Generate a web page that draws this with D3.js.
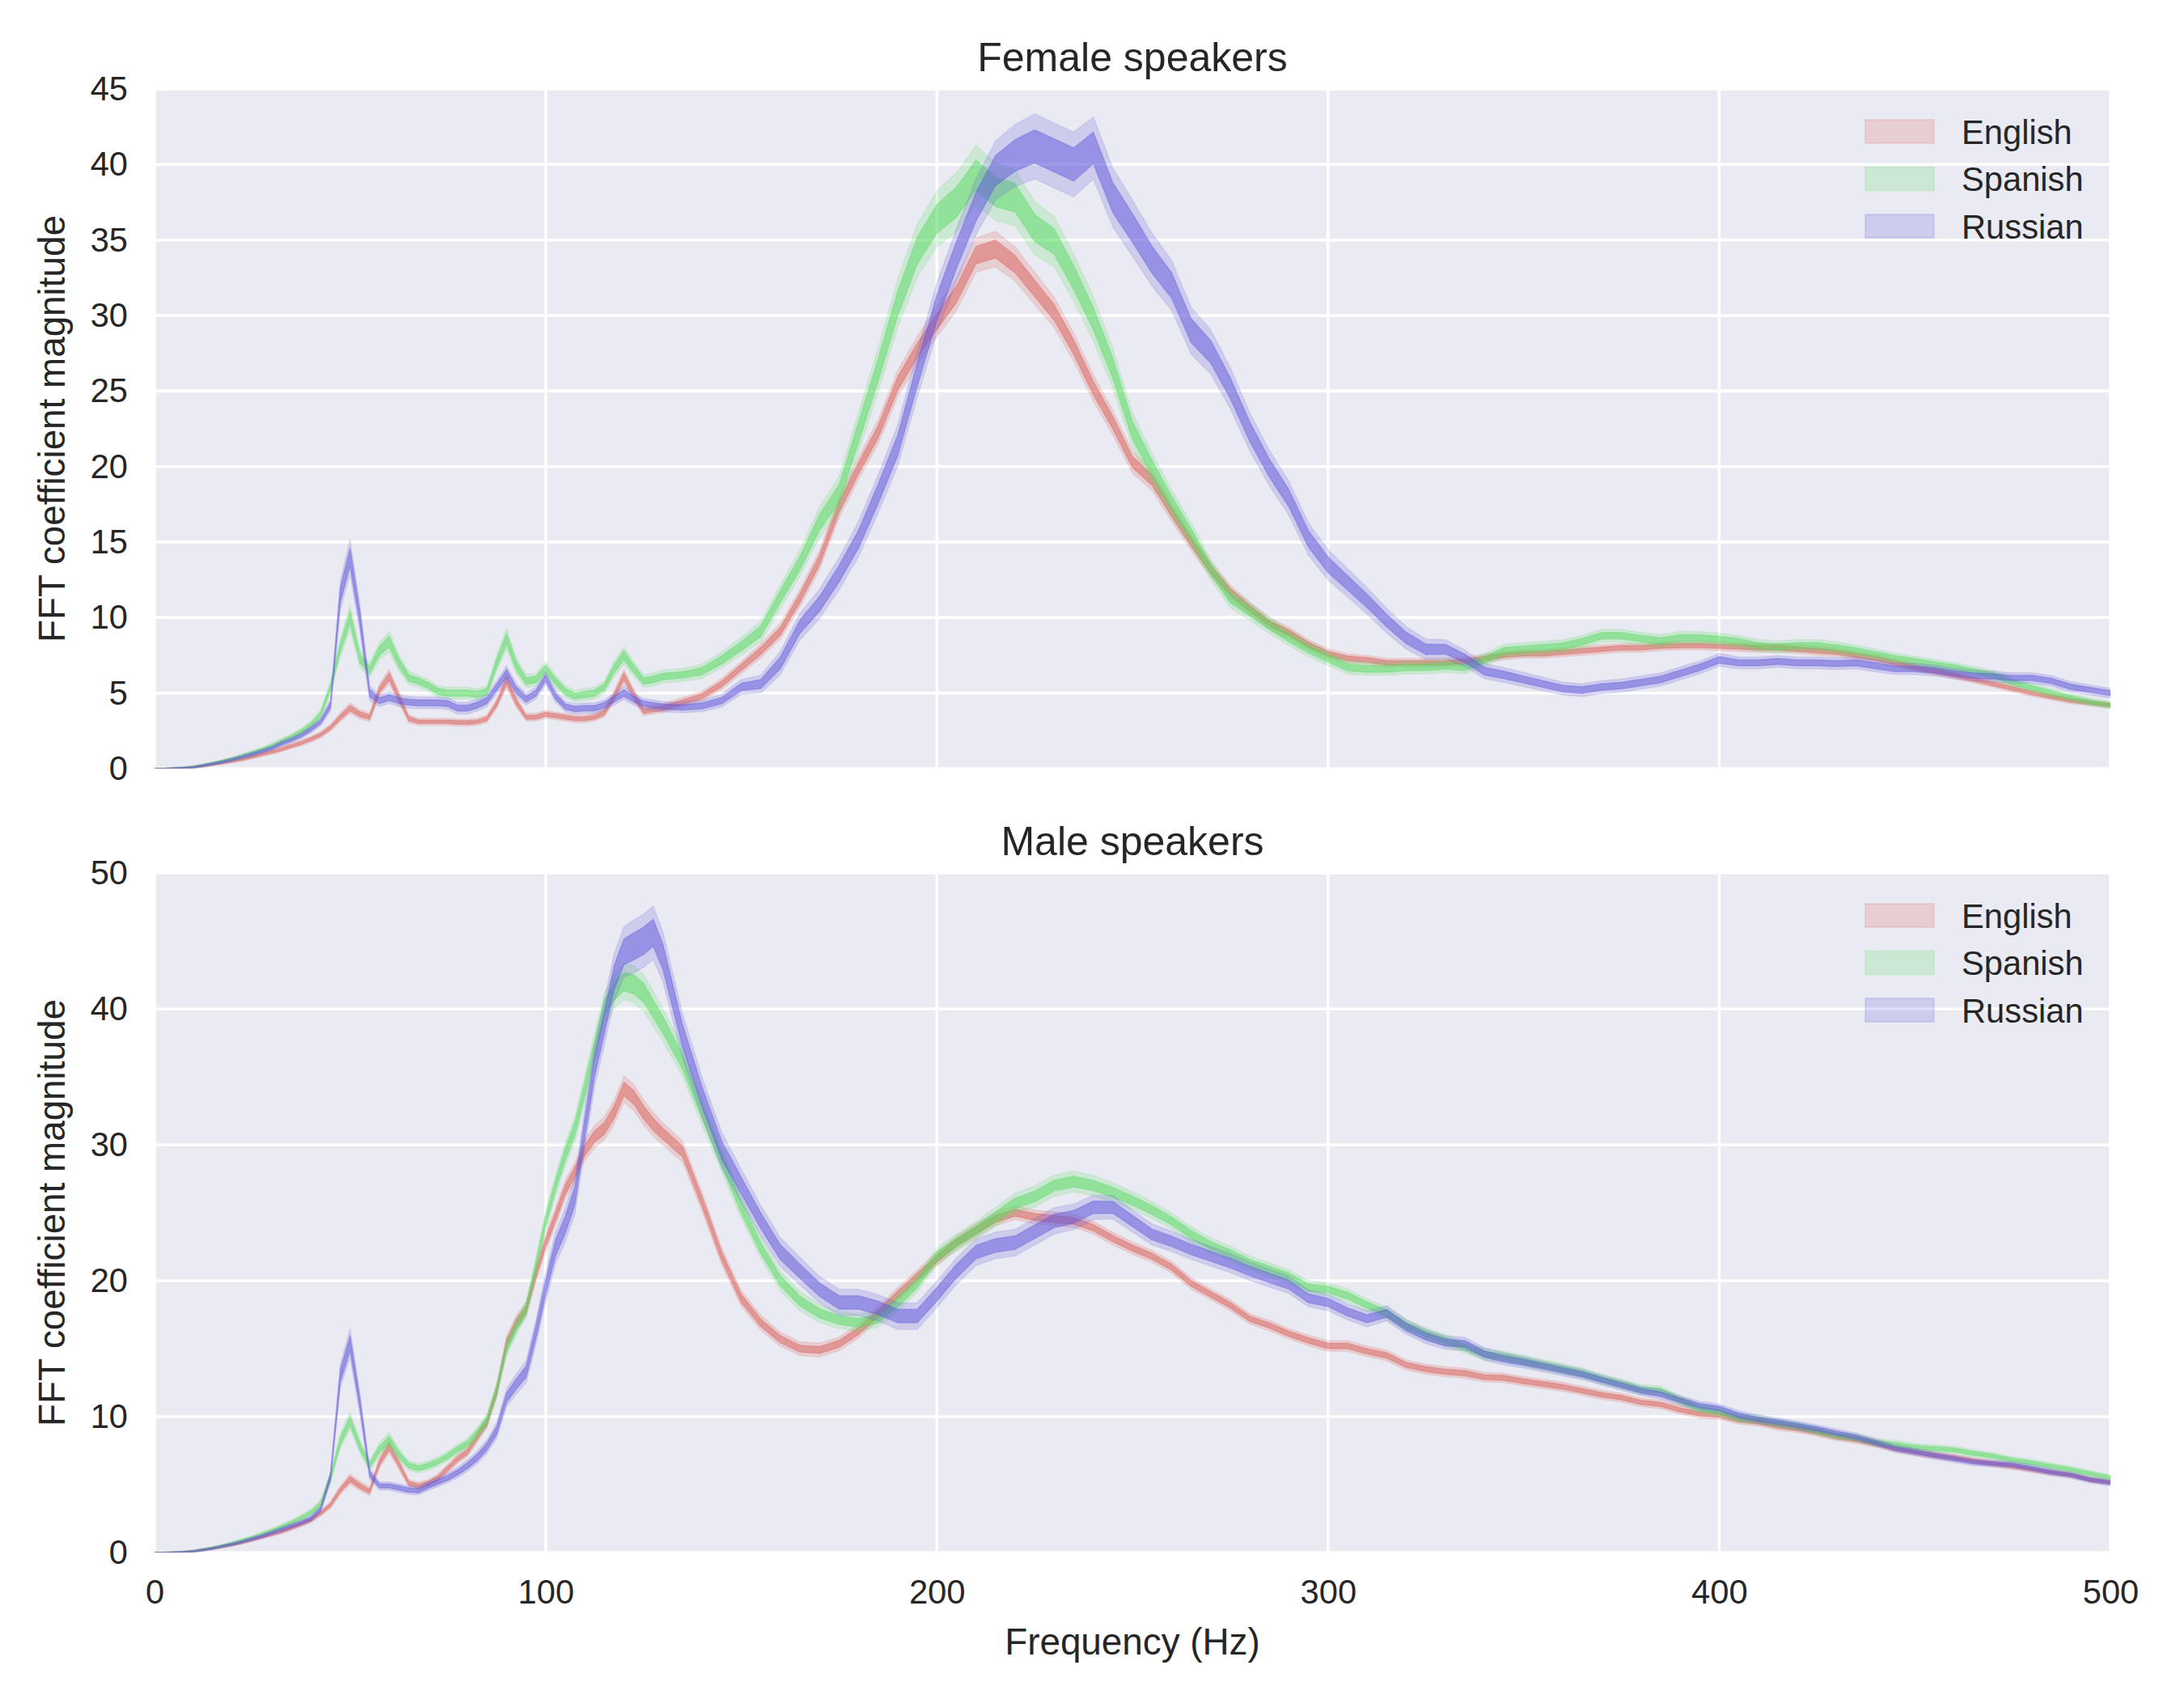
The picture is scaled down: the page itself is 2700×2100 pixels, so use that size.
<!DOCTYPE html>
<html><head><meta charset="utf-8">
<script src="https://cdn.jsdelivr.net/npm/d3@7"></script>
<style>body{margin:0;background:#fff;} svg{display:block;font-family:"Liberation Sans",Arial,sans-serif;}</style>
</head><body><svg id="chart" width="2700" height="2100"></svg>
<script>
// ---------------- DATA ----------------
const frequency = [0,2.5,5,7.5,10,12.5,15,17.5,20,22.5,
25,27.5,30,32.5,35,37.5,40,42.5,45,47.5,
50,52.5,55,57.5,60,62.5,65,67.5,70,72.5,
75,77.5,80,82.5,85,87.5,90,92.5,95,97.5,
100,102.5,105,107.5,110,112.5,115,117.5,120,122.5,
125,127.5,130,
135,140,145,150,155,160,165,170,175,180,
185,190,195,200,205,210,215,220,225,230,
235,240,245,250,255,260,265,270,275,280,
285,290,295,300,305,310,315,320,325,330,
335,340,345,350,355,360,365,370,375,380,
385,390,395,400,405,410,415,420,425,430,
435,440,445,450,455,460,465,470,475,480,
485,490,495,500];

const languages = ["English", "Spanish", "Russian"];
const panelTitles = ["Female speakers", "Male speakers"];
const xTicks = [0, 100, 200, 300, 400, 500];
const femaleYTicks = [0, 5, 10, 15, 20, 25, 30, 35, 40, 45];
const maleYTicks = [0, 10, 20, 30, 40, 50];

// Female speakers: mean magnitude
const femaleEnglish = [0,0,0.02,0.05,0.1,0.18,0.28,0.4,0.5,0.62,
0.78,0.95,1.1,1.28,1.5,1.7,1.95,2.25,2.7,3.4,
4.0,3.6,3.4,5.2,6.1,4.7,3.3,3.1,3.1,3.1,
3.1,3.05,3.05,3.1,3.3,4.3,5.8,4.4,3.4,3.4,
3.6,3.5,3.4,3.3,3.3,3.4,3.7,4.8,6.1,4.9,
3.8,3.9,4.0,
4.4,4.8,5.6,6.7,7.8,9.1,11.3,13.8,17.3,19.9,
22.3,25.5,27.7,29.6,31.4,34.0,34.4,33.4,31.8,30.2,
27.9,25.2,22.9,20.3,19.1,17.0,15.0,13.2,11.7,10.6,
9.6,9.0,8.2,7.6,7.3,7.2,7.0,7.0,7.0,7.0,
7.1,7.3,7.5,7.6,7.6,7.7,7.8,7.9,8.0,8.0,
8.1,8.15,8.15,8.1,8.05,8.0,8.0,7.9,7.8,7.7,
7.5,7.3,7.0,6.7,6.45,6.2,5.9,5.6,5.3,5.0,
4.75,4.5,4.35,4.2];
const femaleSpanish = [0,0,0.02,0.06,0.12,0.22,0.35,0.5,0.65,0.85,
1.05,1.25,1.5,1.8,2.1,2.45,2.9,3.6,5.4,8.0,
10.0,7.3,6.5,7.8,8.4,7.0,6.0,5.8,5.5,5.1,
5.0,5.0,5.0,4.9,5.1,7.0,8.6,6.8,5.8,5.9,
6.6,5.8,5.1,4.8,4.9,5.0,5.4,6.6,7.5,6.6,
5.8,5.9,6.1,
6.2,6.45,7.2,8.1,9.1,11.4,13.6,16.3,18.2,22.3,
26.4,30.8,34.3,36.4,37.5,39.3,38.2,37.8,35.8,34.9,
32.5,29.8,26.5,22.4,19.9,17.6,15.5,13.2,11.3,10.4,
9.5,8.65,7.9,7.3,6.7,6.6,6.6,6.7,6.7,6.8,
6.7,7.2,7.8,7.9,8.0,8.1,8.4,8.8,8.8,8.6,
8.45,8.65,8.65,8.55,8.4,8.15,8.05,8.15,8.15,8.0,
7.8,7.55,7.3,7.1,6.9,6.7,6.45,6.2,5.7,5.35,
5.0,4.7,4.4,4.2];
const femaleRussian = [0,0,0.02,0.05,0.1,0.2,0.32,0.45,0.6,0.78,
0.95,1.15,1.35,1.65,1.9,2.2,2.6,3.1,4.2,11.5,
14.0,10.0,5.0,4.5,4.7,4.5,4.4,4.35,4.35,4.35,
4.3,4.0,4.0,4.2,4.5,5.4,6.3,5.2,4.6,5.0,
6.0,4.8,4.1,3.95,4.0,4.0,4.2,4.6,5.0,4.6,
4.3,4.2,4.1,
4.05,4.15,4.5,5.4,5.6,7.0,9.4,10.9,12.9,15.2,
18.2,21.4,26.1,30.5,34.0,37.2,39.6,40.6,41.2,40.6,
40.0,41.1,37.8,35.8,33.7,32.0,29.0,27.6,25.2,22.3,
19.9,17.9,15.2,13.5,12.3,11.1,9.8,8.65,7.9,7.9,
7.3,6.45,6.2,5.9,5.6,5.3,5.2,5.4,5.5,5.7,
5.9,6.3,6.7,7.2,7.0,7.0,7.1,7.0,7.0,6.95,
7.0,6.8,6.6,6.6,6.5,6.3,6.15,6.1,6.0,6.0,
5.8,5.4,5.2,5.0];

// Female speakers: standard error
const femaleEnglishSe = [0.02,0.02,0.03,0.03,0.04,0.05,0.05,0.06,0.06,0.07,
0.07,0.08,0.08,0.09,0.09,0.1,0.1,0.11,0.12,0.15,
0.18,0.16,0.15,0.2,0.25,0.2,0.14,0.12,0.12,0.12,
0.12,0.12,0.12,0.12,0.13,0.16,0.22,0.18,0.13,0.13,
0.14,0.13,0.13,0.13,0.13,0.13,0.14,0.18,0.24,0.2,
0.15,0.15,0.15,
0.16,0.17,0.19,0.21,0.24,0.26,0.3,0.33,0.36,0.38,
0.42,0.45,0.48,0.52,0.55,0.58,0.6,0.58,0.55,0.52,
0.48,0.45,0.42,0.38,0.35,0.32,0.29,0.26,0.24,0.22,
0.2,0.19,0.18,0.17,0.16,0.15,0.15,0.15,0.15,0.15,
0.15,0.15,0.15,0.15,0.15,0.15,0.15,0.15,0.15,0.15,
0.15,0.15,0.15,0.15,0.15,0.15,0.15,0.15,0.15,0.15,
0.14,0.14,0.14,0.13,0.13,0.13,0.12,0.12,0.12,0.11,
0.11,0.11,0.1,0.1];
const femaleSpanishSe = [0.02,0.02,0.03,0.03,0.04,0.05,0.06,0.06,0.07,0.08,
0.08,0.09,0.1,0.1,0.11,0.12,0.13,0.15,0.2,0.3,
0.4,0.3,0.25,0.3,0.35,0.28,0.22,0.2,0.2,0.2,
0.2,0.2,0.2,0.2,0.2,0.28,0.35,0.28,0.22,0.22,
0.24,0.22,0.2,0.2,0.2,0.2,0.22,0.26,0.3,0.26,
0.22,0.22,0.22,
0.22,0.24,0.27,0.3,0.35,0.4,0.45,0.52,0.6,0.68,
0.75,0.82,0.9,0.95,1.0,1.0,0.98,0.95,0.9,0.85,
0.8,0.75,0.68,0.6,0.52,0.45,0.4,0.36,0.33,0.3,
0.28,0.26,0.25,0.24,0.23,0.22,0.22,0.22,0.22,0.22,
0.22,0.22,0.22,0.22,0.22,0.22,0.22,0.22,0.22,0.22,
0.22,0.22,0.22,0.21,0.21,0.2,0.2,0.2,0.2,0.2,
0.19,0.19,0.18,0.18,0.17,0.17,0.16,0.16,0.15,0.15,
0.14,0.14,0.13,0.13];
const femaleRussianSe = [0.02,0.02,0.03,0.03,0.04,0.05,0.05,0.06,0.07,0.07,
0.08,0.08,0.09,0.1,0.1,0.11,0.12,0.13,0.2,0.5,
0.6,0.45,0.25,0.2,0.2,0.2,0.2,0.2,0.2,0.2,
0.2,0.2,0.2,0.2,0.2,0.22,0.26,0.22,0.2,0.2,
0.22,0.2,0.18,0.18,0.18,0.18,0.18,0.2,0.22,0.2,
0.18,0.18,0.18,
0.18,0.2,0.22,0.25,0.3,0.4,0.45,0.5,0.55,0.6,
0.65,0.7,0.78,0.85,0.9,0.95,1.0,1.05,1.1,1.1,
1.1,1.05,1.0,0.95,0.9,0.85,0.8,0.75,0.7,0.65,
0.6,0.58,0.55,0.52,0.48,0.45,0.42,0.38,0.35,0.32,
0.28,0.26,0.25,0.24,0.23,0.22,0.22,0.22,0.22,0.22,
0.22,0.22,0.22,0.22,0.2,0.2,0.2,0.2,0.2,0.2,
0.2,0.2,0.19,0.19,0.19,0.18,0.18,0.18,0.18,0.18,
0.18,0.18,0.17,0.17];

// Male speakers: mean magnitude
const maleEnglish = [0,0,0.02,0.05,0.1,0.2,0.3,0.45,0.6,0.75,
0.95,1.15,1.35,1.55,1.8,2.1,2.4,2.9,3.5,4.6,
5.4,4.9,4.5,6.6,7.8,6.5,5.1,4.9,5.1,5.5,
6.2,6.9,7.4,8.5,9.6,11.9,15.4,16.9,17.9,20.5,
22.8,24.7,26.7,28.0,29.6,30.6,31.2,32.4,34.1,33.5,
32.4,31.5,30.8,
29.5,25.8,21.8,18.7,16.9,15.7,15.0,14.9,15.35,16.3,
17.6,19.0,20.3,21.6,22.8,23.7,24.55,25.0,24.7,24.55,
24.4,23.9,23.1,22.4,21.8,21.0,19.8,19.0,18.2,17.2,
16.7,16.1,15.6,15.2,15.2,14.8,14.5,13.8,13.5,13.3,
13.2,12.9,12.85,12.6,12.4,12.2,11.9,11.6,11.4,11.05,
10.9,10.5,10.2,10.1,9.75,9.6,9.3,9.1,8.85,8.5,
8.3,8.0,7.65,7.4,7.15,7.0,6.75,6.55,6.35,6.1,
5.9,5.7,5.35,5.15];
const maleSpanish = [0,0,0.02,0.06,0.12,0.22,0.35,0.5,0.68,0.88,
1.1,1.35,1.6,1.9,2.2,2.55,2.95,3.6,5.5,8.2,
9.7,7.8,6.4,7.6,8.3,7.2,6.4,6.2,6.4,6.7,
7.1,7.6,8.0,8.8,9.75,12.0,15.0,16.6,17.9,21.1,
24.4,27.0,29.3,31.2,34.1,37.1,40.0,41.3,42.0,41.8,
41.2,40.0,38.8,
36.1,32.4,28.9,25.4,22.4,20.0,18.5,17.6,17.1,16.9,
17.2,18.4,19.8,21.8,22.8,23.7,24.7,25.7,26.2,27.0,
27.3,27.0,26.5,25.9,25.2,24.4,23.4,22.6,22.0,21.3,
20.8,20.3,19.5,19.35,18.9,18.2,17.6,16.7,16.1,15.6,
15.1,14.6,14.4,14.1,13.8,13.5,13.2,12.75,12.4,12.0,
11.9,11.2,10.6,10.35,9.9,9.8,9.5,9.3,8.95,8.6,
8.45,8.1,7.95,7.75,7.65,7.55,7.3,7.1,6.8,6.6,
6.35,6.1,5.8,5.5];
const maleRussian = [0,0,0.02,0.05,0.1,0.2,0.32,0.47,0.62,0.8,
1.0,1.2,1.45,1.7,1.95,2.2,2.5,3.2,5.6,13.0,
15.4,11.0,5.8,4.9,4.9,4.75,4.6,4.55,4.9,5.2,
5.5,5.9,6.4,7.0,7.8,9.0,11.4,12.4,13.3,16.2,
19.5,22.4,24.1,26.3,31.2,35.8,39.0,42.3,44.2,44.6,
45.0,45.6,43.8,
38.0,33.5,29.6,27.0,24.4,22.1,20.7,19.35,18.4,18.4,
18.0,17.4,17.4,19.0,20.7,22.1,22.6,22.8,23.6,24.4,
24.7,25.4,25.4,24.4,23.4,22.9,22.3,21.8,21.3,20.7,
20.2,19.7,18.7,18.4,17.7,17.2,17.6,16.6,15.9,15.45,
15.35,14.6,14.25,14.0,13.7,13.4,13.1,12.7,12.3,11.9,
11.65,11.2,10.8,10.6,10.1,9.8,9.6,9.35,9.1,8.8,
8.5,8.1,7.65,7.4,7.15,6.9,6.65,6.55,6.45,6.2,
5.9,5.7,5.35,5.15];

// Male speakers: standard error
const maleEnglishSe = [0.02,0.02,0.03,0.03,0.04,0.05,0.05,0.06,0.06,0.07,
0.07,0.08,0.08,0.09,0.09,0.1,0.1,0.11,0.13,0.16,
0.2,0.18,0.16,0.2,0.25,0.2,0.15,0.14,0.14,0.15,
0.16,0.17,0.18,0.2,0.22,0.25,0.28,0.28,0.28,0.3,
0.32,0.34,0.36,0.38,0.4,0.42,0.44,0.46,0.5,0.5,
0.48,0.45,0.42,
0.4,0.36,0.33,0.3,0.28,0.27,0.26,0.26,0.26,0.26,
0.26,0.26,0.26,0.26,0.26,0.26,0.26,0.26,0.26,0.26,
0.25,0.24,0.24,0.23,0.23,0.22,0.22,0.21,0.21,0.2,
0.2,0.2,0.2,0.2,0.2,0.2,0.2,0.19,0.19,0.19,
0.19,0.18,0.18,0.18,0.18,0.17,0.17,0.17,0.17,0.16,
0.16,0.16,0.16,0.15,0.15,0.15,0.15,0.14,0.14,0.14,
0.14,0.13,0.13,0.13,0.13,0.12,0.12,0.12,0.12,0.11,
0.11,0.11,0.11,0.1];
const maleSpanishSe = [0.02,0.02,0.03,0.03,0.04,0.05,0.06,0.06,0.07,0.08,
0.08,0.09,0.1,0.1,0.11,0.12,0.13,0.15,0.2,0.28,
0.32,0.26,0.2,0.24,0.26,0.22,0.18,0.18,0.18,0.18,
0.18,0.2,0.2,0.22,0.24,0.26,0.28,0.3,0.3,0.32,
0.36,0.4,0.44,0.48,0.52,0.56,0.6,0.64,0.68,0.7,
0.7,0.66,0.62,
0.56,0.5,0.46,0.42,0.4,0.38,0.36,0.34,0.32,0.32,
0.32,0.32,0.32,0.32,0.32,0.34,0.36,0.38,0.4,0.4,
0.4,0.38,0.36,0.34,0.32,0.3,0.3,0.28,0.28,0.27,
0.27,0.26,0.26,0.25,0.25,0.24,0.24,0.23,0.23,0.22,
0.22,0.22,0.21,0.21,0.2,0.2,0.2,0.19,0.19,0.19,
0.18,0.18,0.18,0.17,0.17,0.17,0.16,0.16,0.16,0.15,
0.15,0.15,0.15,0.14,0.14,0.14,0.14,0.13,0.13,0.13,
0.13,0.12,0.12,0.12];
const maleRussianSe = [0.02,0.02,0.03,0.03,0.04,0.05,0.05,0.06,0.07,0.07,
0.08,0.08,0.09,0.1,0.1,0.11,0.12,0.13,0.2,0.45,
0.55,0.4,0.2,0.16,0.16,0.16,0.16,0.16,0.17,0.18,
0.19,0.2,0.22,0.24,0.26,0.3,0.35,0.38,0.42,0.48,
0.55,0.6,0.65,0.7,0.75,0.8,0.85,0.9,0.95,1.0,
1.0,1.0,0.95,
0.85,0.75,0.68,0.62,0.58,0.55,0.52,0.5,0.5,0.5,
0.5,0.5,0.5,0.5,0.5,0.5,0.5,0.5,0.5,0.5,
0.48,0.46,0.44,0.42,0.4,0.39,0.38,0.37,0.36,0.35,
0.34,0.33,0.32,0.31,0.3,0.3,0.29,0.28,0.27,0.26,
0.25,0.24,0.23,0.22,0.21,0.2,0.2,0.19,0.19,0.18,
0.18,0.18,0.17,0.17,0.17,0.16,0.16,0.16,0.15,0.15,
0.15,0.15,0.14,0.14,0.14,0.14,0.13,0.13,0.13,0.13,
0.13,0.12,0.12,0.12];

// ---------------- STYLE / LAYOUT ----------------
const colors = ["#db5f57", "#57db5f", "#5f57db"];
const textColor = "#262626";
const bg = "#EAEAF2";
const plotLeft = 191, plotRight = 2609;
const panels = [
  {title: panelTitles[0], top: 110, bottom: 950, yMax: 45, yTicks: femaleYTicks,
   means: [femaleEnglish, femaleSpanish, femaleRussian],
   ses: [femaleEnglishSe, femaleSpanishSe, femaleRussianSe], showX: false},
  {title: panelTitles[1], top: 1079, bottom: 1919, yMax: 50, yTicks: maleYTicks,
   means: [maleEnglish, maleSpanish, maleRussian],
   ses: [maleEnglishSe, maleSpanishSe, maleRussianSe], showX: true}
];

const svg = d3.select("#chart");
svg.append("rect").attr("width", 2700).attr("height", 2100).attr("fill", "#ffffff");

const x = d3.scaleLinear().domain([0, 500]).range([plotLeft, plotRight]);

panels.forEach((p, pi) => {
  const y = d3.scaleLinear().domain([0, p.yMax]).range([p.bottom, p.top]);
  const g = svg.append("g");
  const clipId = "clip" + pi;
  svg.append("clipPath").attr("id", clipId).append("rect")
    .attr("x", plotLeft).attr("y", p.top).attr("width", plotRight - plotLeft).attr("height", p.bottom - p.top);

  g.append("rect").attr("x", plotLeft).attr("y", p.top)
    .attr("width", plotRight - plotLeft).attr("height", p.bottom - p.top).attr("fill", bg);

  // grid
  g.selectAll(".hgrid").data(p.yTicks).enter().append("line")
    .attr("x1", plotLeft).attr("x2", plotRight)
    .attr("y1", d => y(d)).attr("y2", d => y(d))
    .attr("stroke", "#ffffff").attr("stroke-width", 3.5);
  g.selectAll(".vgrid").data(xTicks).enter().append("line")
    .attr("y1", p.top).attr("y2", p.bottom)
    .attr("x1", d => x(d)).attr("x2", d => x(d))
    .attr("stroke", "#ffffff").attr("stroke-width", 3.5);

  // bands
  const bandG = g.append("g").attr("clip-path", `url(#${clipId})`);
  languages.forEach((lang, li) => {
    const rows = frequency.map((f, i) => ({f, m: p.means[li][i], se: p.ses[li][i]}));
    [[1.96, 0.2], [1.0, 0.5]].forEach(([k, a]) => {
      const area = d3.area()
        .x(d => x(d.f))
        .y0(d => y(d.m - k * d.se))
        .y1(d => y(d.m + k * d.se));
      bandG.append("path").datum(rows).attr("d", area)
        .attr("fill", colors[li]).attr("fill-opacity", a)
        .attr("stroke", colors[li]).attr("stroke-opacity", a * 0.6).attr("stroke-width", 1.5);
    });
  });

  // y axis
  const yAxis = d3.axisLeft(y).tickValues(p.yTicks).tickSize(0).tickPadding(33).tickFormat(d3.format("d"));
  const ya = g.append("g").attr("transform", `translate(${plotLeft},0)`).call(yAxis);
  ya.select(".domain").remove();
  ya.selectAll("text").attr("font-size", 41.7).attr("fill", textColor)
    .attr("font-family", '"Liberation Sans", Arial, sans-serif');

  if (p.showX) {
    const xAxis = d3.axisBottom(x).tickValues(xTicks).tickSize(0).tickPadding(33).tickFormat(d3.format("d"));
    const xa = g.append("g").attr("transform", `translate(0,${p.bottom})`).call(xAxis);
    xa.select(".domain").remove();
    xa.selectAll("text").attr("font-size", 41.7).attr("fill", textColor)
      .attr("font-family", '"Liberation Sans", Arial, sans-serif');
  }

  // title
  g.append("text").attr("x", (plotLeft + plotRight) / 2).attr("y", p.top - 22)
    .attr("text-anchor", "middle").attr("font-size", 50).attr("fill", textColor).text(p.title);

  // y label
  g.append("text")
    .attr("transform", `translate(80,${(p.top + p.bottom) / 2}) rotate(-90)`)
    .attr("text-anchor", "middle").attr("font-size", 45.8).attr("fill", textColor)
    .text("FFT coefficient magnitude");

  // legend
  const lg = g.append("g");
  languages.forEach((lang, li) => {
    const ry = p.top + 38 + li * 58.5;
    lg.append("rect").attr("x", 2306).attr("y", ry).attr("width", 85).attr("height", 29)
      .attr("fill", colors[li]).attr("fill-opacity", 0.2)
      .attr("stroke", colors[li]).attr("stroke-opacity", 0.15).attr("stroke-width", 2);
    lg.append("text").attr("x", 2425).attr("y", ry + 29.5)
      .attr("font-size", 41.7).attr("fill", textColor).text(lang);
  });
});

// x label
svg.append("text").attr("x", (plotLeft + plotRight) / 2).attr("y", 2045)
  .attr("text-anchor", "middle").attr("font-size", 45.8).attr("fill", textColor)
  .text("Frequency (Hz)");

[femaleEnglish, femaleSpanish, femaleRussian, maleEnglish, maleSpanish, maleRussian,
 femaleEnglishSe, femaleSpanishSe, femaleRussianSe, maleEnglishSe, maleSpanishSe, maleRussianSe]
  .forEach((a, i) => { if (a.length !== frequency.length) console.error("length mismatch", i, a.length, frequency.length); });
</script>
</body></html>
